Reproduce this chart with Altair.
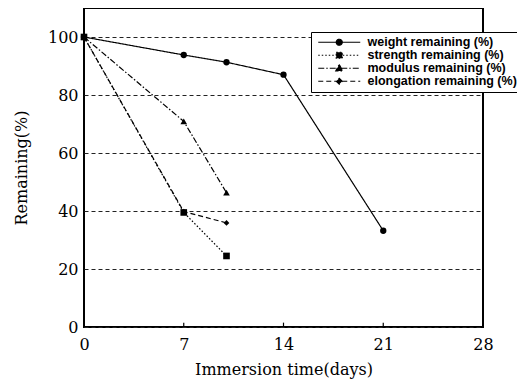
import altair as alt
import pandas as pd

series = ["weight remaining (%)", "strength remaining (%)",
          "modulus remaining (%)", "elongation remaining (%)"]
days_weight = [0, 7, 10, 14, 21]
weight = [100, 93.8, 91.3, 87.0, 33.2]
days_short = [0, 7, 10]
strength = [100, 39.5, 24.5]
modulus = [100, 70.9, 46.3]
elongation = [100, 39.8, 35.9]

x_ticks = [0, 7, 14, 21, 28]
y_ticks = [0, 20, 40, 60, 80, 100]
inner_ticks = [7, 14, 21]

rows = []
for d, v in zip(days_weight, weight):
    rows.append({"day": d, "value": v, "series": series[0]})
for name, vals in zip(series[1:], [strength, modulus, elongation]):
    for d, v in zip(days_short, vals):
        rows.append({"day": d, "value": v, "series": name})
df = pd.DataFrame(rows)
ticks_df = pd.DataFrame({"day": inner_ticks})

dashes = [[1, 0], [1.5, 2], [6, 2, 1.5, 2], [5, 3]]
shapes = ["circle", "square", "triangle-up", "diamond"]
point_sizes = [40, 44, 44, 32]
legend_paths = [
    "M-1,0L13,0M7,0A1,1 0 1 1 5,0A1,1 0 1 1 7,0Z",
    "M-1,0L13,0M5,-1L7,-1L7,1L5,1Z",
    "M-1,0L13,0M6,-1.25L7.15,0.9L4.85,0.9Z",
    "M-1,0L13,0M6,-1L7,0L6,1L5,0Z",
]
idx = "indexof([" + ",".join("'" + s + "'" for s in series) + "], datum.value)"
shape_expr = "[" + ",".join("'" + p + "'" for p in legend_paths) + "][" + idx + "]"

serif = "DejaVu Serif"

x_enc = alt.X("day:Q", scale=alt.Scale(domain=[0, 28], nice=False),
              axis=alt.Axis(values=x_ticks, grid=False, ticks=False, tickSize=0,
                            domain=False, labelFlush=False,
                            labelFont=serif, labelFontSize=16, labelColor="black",
                            labelPadding=9, title="Immersion time(days)",
                            titleFont=serif, titleFontSize=16, titleFontWeight="normal",
                            titleColor="black", titlePadding=9))
y_enc = alt.Y("value:Q", scale=alt.Scale(domain=[0, 110], nice=False),
              axis=alt.Axis(values=y_ticks, grid=True, gridDash=[4, 3], gridColor="#222",
                            gridWidth=1, ticks=False, tickSize=0, domain=False,
                            labelFlush=False,
                            labelFont=serif, labelFontSize=16, labelColor="black",
                            labelPadding=6, title="Remaining(%)",
                            titleFont=serif, titleFontSize=16, titleFontWeight="normal",
                            titleColor="black", titlePadding=18))

legend = alt.Legend(title=None, orient="none", legendX=227, legendY=24,
                    symbolType=alt.ExprRef(expr=shape_expr),
                    symbolSize=36, symbolFillColor="black", symbolStrokeColor="black",
                    symbolStrokeWidth=1.2,
                    labelFont="Liberation Sans", labelFontSize=12.5, labelFontWeight="bold",
                    labelColor="black", labelOffset=40, rowPadding=-1.5,
                    padding=4, strokeColor="black", fillColor="white")

lines = alt.Chart(df).mark_line(color="black", strokeWidth=1.2).encode(
    x=x_enc, y=y_enc,
    strokeDash=alt.StrokeDash("series:N", scale=alt.Scale(domain=series, range=dashes),
                              legend=legend),
)

point_layers = []
for name, shp, sz in zip(series, shapes, point_sizes):
    point_layers.append(
        alt.Chart(df).transform_filter(alt.datum.series == name)
        .mark_point(filled=True, color="black", opacity=1, size=sz, shape=shp)
        .encode(x="day:Q", y="value:Q")
    )

tick_marks = alt.Chart(ticks_df).mark_rule(color="black", strokeWidth=1.2).encode(
    x="day:Q", y=alt.datum(0), y2=alt.datum(1.5)
)

chart = alt.layer(lines, *point_layers, tick_marks).properties(
    width=399, height=319,
    autosize=alt.AutoSizeParams(type="none"),
    padding={"left": 76, "top": 0, "right": 34, "bottom": 55},
).configure_view(stroke="black", strokeWidth=2)

chart.save("out.html", embed_options={"renderer": "svg", "actions": False})
